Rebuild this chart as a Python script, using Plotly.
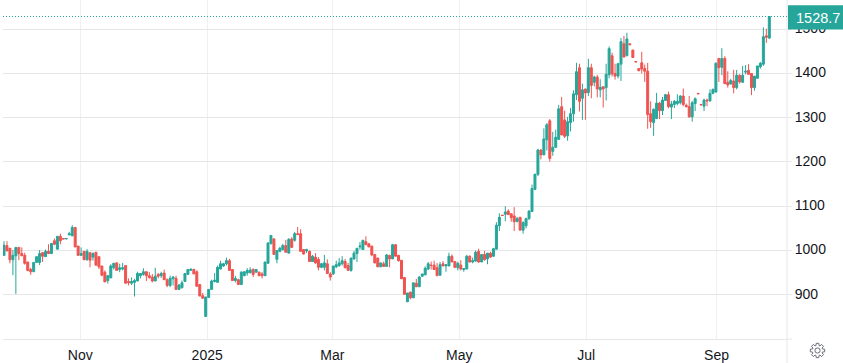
import math
import plotly.graph_objects as go

open_prices = [
 989,1011,1005,979,988,1007,993,989,974,957,952,973,973,995,986,998,993,1022,1003,1032,1027,1026,1035,1033,1052,1010,989,998,979,995,985,996,986,965,951,932,
 938,961,972,957,958,966,930,926,928,931,943,946,952,943,940,931,946,943,949,934,921,936,937,912,916,930,946,955,957,952,923,898,851,894,912,930,928,
 958,965,970,977,957,932,934,923,943,949,950,957,951,951,947,943,971,1015,1026,980,998,1002,1011,994,1026,1023,1038,1038,1002,999,998,975,985,980,962,962,970,
 947,947,963,966,970,975,966,955,981,993,1008,1002,1020,1015,1010,991,983,963,970,964,989,981,1013,989,978,939,884,906,893,926,918,942,945,958,967,967,961,
 944,970,965,965,987,975,961,967,957,958,987,974,976,998,974,991,981,994,987,1003,1056,1080,1082,1089,1083,1078,1065,1075,1046,1056,1072,1088,1138,1172,1227,1216,1250,
 1293,1224,1233,1251,1325,1295,1259,1289,1309,1352,1413,1344,1365,1357,1413,1380,1392,1363,1370,1368,1397,1440,1400,1394,1421,1467,1440,1467,1453,1427,1411,1424,1411,1405,1309,1289,1298,1333,1316,1339,1352,
 1324,1330,1332,1334,1349,1328,1325,1302,1332,1355,1330,1326,1340,1338,1355,1358,1434,1414,1434,1380,1376,1383,1368,1396,1380,1403,1407,1400,1368,1389,1415,1421,1485,1480,
]
high_prices = [
 1021,1021,1005,1001,1007,1007,1007,995,974,961,973,986,1001,996,1002,1014,1016,1027,1032,1038,1027,1027,1042,1057,1052,1010,1007,998,1003,995,996,996,986,965,955,945,
 969,972,973,970,972,966,937,939,936,952,949,960,952,951,947,961,949,952,957,937,943,942,943,924,932,948,958,959,959,955,923,904,895,913,934,949,966,
 977,972,984,981,957,943,936,953,953,960,962,960,957,952,951,974,1018,1034,1028,1000,1008,1015,1024,1028,1030,1042,1053,1048,1003,1004,1000,990,994,985,972,990,980,
 951,965,977,983,987,981,972,983,999,1005,1019,1024,1032,1017,1010,991,983,972,975,992,990,1015,1014,990,978,939,904,906,927,936,942,947,964,974,975,977,972,
 974,976,969,995,991,975,975,978,959,990,989,984,1000,1004,991,999,994,997,1006,1064,1084,1080,1100,1093,1083,1098,1076,1075,1066,1074,1091,1149,1174,1230,1229,1276,1288,
 1297,1268,1273,1329,1347,1316,1302,1322,1362,1424,1422,1377,1365,1433,1422,1395,1397,1387,1370,1422,1461,1447,1422,1424,1480,1485,1492,1467,1453,1427,1411,1449,1420,1424,1337,1321,1356,1336,1347,1354,1359,
 1338,1340,1353,1351,1366,1332,1349,1338,1346,1355,1330,1343,1343,1364,1366,1425,1434,1457,1439,1405,1388,1408,1408,1398,1417,1419,1421,1400,1394,1417,1426,1504,1501,1528.7,
]
low_prices = [
 989,999,971,944,902,978,988,968,953,945,952,973,967,974,986,992,992,1012,1003,1014,1026,1026,1035,1033,1008,988,989,979,977,962,977,965,958,942,929,925,
 938,957,955,951,955,926,921,922,896,931,937,943,931,936,928,931,937,938,934,917,917,921,912,911,914,930,945,955,947,919,897,892,851,894,912,928,928,
 958,963,966,955,932,928,923,923,942,943,948,940,950,942,937,943,971,1015,990,971,996,1000,996,994,1007,1020,1036,998,991,994,974,975,970,955,960,955,948,
 932,945,960,963,966,960,955,952,979,974,1002,1002,1013,1008,987,971,963,963,964,964,962,981,987,975,936,901,884,890,893,918,918,940,944,956,957,957,943,
 944,965,952,965,974,960,955,955,952,958,973,971,975,972,974,977,969,983,986,1002,1044,1079,1066,1081,1065,1044,1065,1046,1038,1050,1069,1088,1138,1168,1206,1216,1226,
 1201,1214,1232,1251,1261,1254,1248,1269,1291,1340,1314,1295,1295,1349,1344,1371,1346,1346,1323,1339,1389,1393,1386,1389,1383,1437,1439,1465,1436,1426,1406,1400,1381,1275,1277,1259,1298,1297,1306,1339,1321,
 1297,1322,1328,1330,1326,1323,1300,1291,1315,1354,1329,1315,1326,1336,1353,1357,1381,1396,1377,1368,1376,1355,1364,1377,1379,1398,1397,1351,1361,1389,1411,1417,1469,1478,
]
close_prices = [
 1012,999,979,989,1007,993,988,971,955,952,973,986,993,987,998,993,1016,1014,1032,1022,1026,1027,1038,1052,1008,989,993,979,998,978,993,967,963,944,929,943,
 965,971,955,961,961,926,927,930,932,948,948,952,943,939,931,942,942,948,934,921,937,940,912,922,927,948,957,958,947,919,897,892,895,912,931,933,962,
 970,970,977,955,932,937,923,951,952,955,956,946,957,943,943,974,1017,1034,991,1000,1005,1011,996,1025,1007,1038,1036,998,992,1002,975,987,972,962,970,972,948,
 940,965,968,972,977,961,955,983,994,1005,1010,1023,1013,1008,990,972,963,972,964,990,981,1013,987,977,936,901,904,893,927,918,940,947,960,970,966,957,943,
 968,965,968,987,974,962,971,958,959,987,974,977,996,974,991,979,994,985,1004,1057,1075,1079,1087,1081,1074,1065,1072,1046,1063,1072,1089,1140,1172,1227,1216,1252,1284,
 1208,1233,1256,1320,1261,1258,1291,1309,1354,1404,1337,1363,1356,1413,1373,1392,1365,1369,1365,1398,1456,1399,1394,1422,1472,1437,1478,1465,1436,1426,1406,1410,1405,1307,1291,1319,1333,1316,1340,1352,1325,
 1331,1337,1337,1349,1330,1325,1302,1334,1343,1354,1329,1340,1338,1355,1364,1423,1413,1434,1377,1374,1384,1368,1396,1381,1396,1405,1398,1368,1394,1417,1423,1483,1482,1528.7,
]
month_labels = ["Nov", "2025", "Mar", "May", "Jul", "Sep"]
month_positions = [25.7, 68.5, 110.7, 153.5, 196.3, 240.2]
price_ticks = [900, 1000, 1100, 1200, 1300, 1400, 1500]
last_price = close_prices[-1]

UP, DOWN = "#26a69a", "#ef5350"
GRID_H, GRID_V, TEXT = "#e6e6e6", "#edf1f5", "#131722"
W, H = 843, 363
L, R, T, B = 3, 56, 0, 24
plot_w, plot_h = W - L - R, H - T - B

n = len(close_prices)
step = 765.3 / (n - 1)
x_lo = -1.0 / step
x_hi = x_lo + plot_w / step
index = list(range(n))

fig = go.Figure(go.Candlestick(
    x=index, open=open_prices, high=high_prices, low=low_prices, close=close_prices,
    increasing=dict(line=dict(color=UP, width=1), fillcolor=UP),
    decreasing=dict(line=dict(color=DOWN, width=1), fillcolor=DOWN),
    whiskerwidth=0, hoverinfo="skip",
))

def px(xp): return (xp - L) / plot_w
def py(yp): return (H - B - yp) / plot_h
cx, cy = 817.5, 350.5
gear = []
for i in range(8):
    a0 = i * math.pi / 4
    for da, r in [(-0.30, 5.2), (-0.18, 7.3), (0.18, 7.3), (0.30, 5.2)]:
        a = a0 + da
        gear.append((px(cx + r * math.cos(a)), py(cy + r * math.sin(a))))
gear_path = "M" + " L".join(f"{a:.5f},{b:.5f}" for a, b in gear) + " Z"

fig.update_layout(
    width=W, height=H, autosize=False,
    margin=dict(l=L, r=R, t=T, b=B, pad=0),
    paper_bgcolor="white", plot_bgcolor="white",
    showlegend=False, boxgap=0.05,
    font=dict(family="Liberation Sans", size=14, color=TEXT),
    xaxis=dict(
        range=[x_lo, x_hi], rangeslider=dict(visible=False),
        tickmode="array", tickvals=month_positions, ticktext=month_labels,
        showgrid=True, gridcolor=GRID_V, gridwidth=1, zeroline=False,
        showline=True, linecolor=GRID_H, linewidth=1,
        ticks="outside", ticklen=3, tickcolor="rgba(0,0,0,0)",
        tickfont=dict(size=14, color=TEXT),
    ),
    yaxis=dict(
        range=[800, 800 + plot_h * 2.2595], side="right",
        tickmode="array", tickvals=price_ticks,
        ticktext=[str(v) for v in price_ticks],
        showgrid=True, gridcolor=GRID_H, gridwidth=1, zeroline=False,
        showline=False,
        ticks="outside", ticklen=4, tickcolor=GRID_H,
        ticklabelshift=-1,
        tickfont=dict(size=14, color=TEXT),
    ),
    shapes=[
        dict(type="line", xref="paper", yref="y", x0=0, x1=1, y0=last_price, y1=last_price,
             line=dict(color=UP, width=1, dash="1px,2px"), layer="above"),
        dict(type="line", xref="paper", yref="paper", x0=1, x1=1, y0=py(H), y1=1,
             line=dict(color=GRID_H, width=1), layer="below"),
        dict(type="line", xref="paper", yref="paper", x0=1, x1=px(792), y0=0, y1=0,
             line=dict(color=GRID_H, width=1), layer="below"),
        dict(type="rect", xref="paper", yref="paper", x0=px(788), x1=px(843), y0=py(29.4), y1=py(5.3),
             line=dict(width=0), fillcolor=UP, layer="above"),
        dict(type="path", xref="paper", yref="paper", path=gear_path,
             line=dict(color="#6a6d78", width=1), fillcolor="rgba(0,0,0,0)"),
        dict(type="circle", xref="paper", yref="paper",
             x0=px(cx - 2.6), x1=px(cx + 2.6), y0=py(cy + 2.6), y1=py(cy - 2.6),
             line=dict(color="#6a6d78", width=1), fillcolor="rgba(0,0,0,0)"),
    ],
    annotations=[
        dict(xref="paper", yref="y", x=px(841), y=last_price, xanchor="right", yanchor="middle",
             text=f"{last_price}", showarrow=False, yshift=-1, borderpad=0,
             font=dict(family="Liberation Sans", size=14.5, color="white")),
    ],
)

fig.write_html("out.html", config=dict(displayModeBar=False),
               post_script="document.body.style.margin='0';")
